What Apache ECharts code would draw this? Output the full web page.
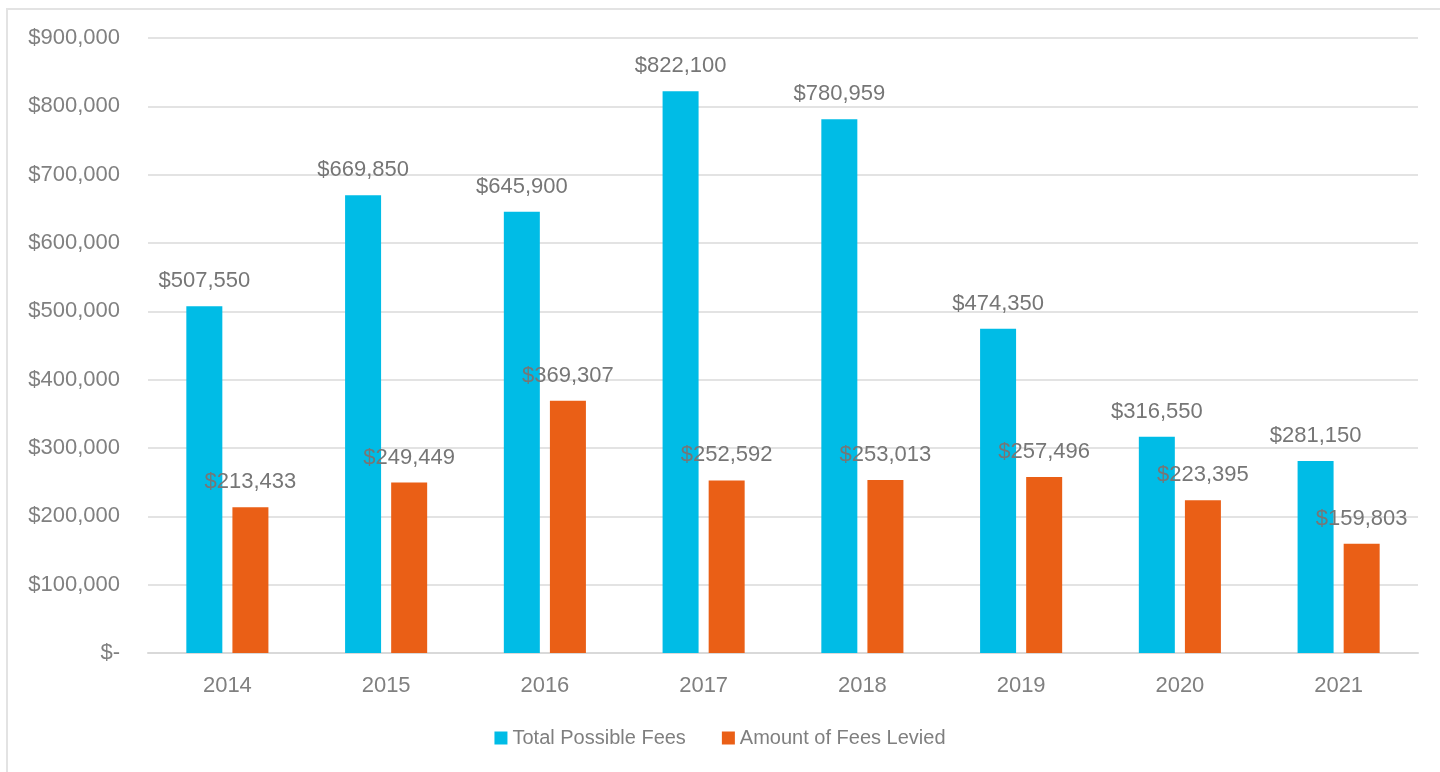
<!DOCTYPE html>
<html>
<head>
<meta charset="utf-8">
<script src="https://cdn.jsdelivr.net/npm/echarts@6/dist/echarts.min.js"></script>
<style>
  html, body { margin: 0; padding: 0; background: #fff; overflow: hidden; }
  #frame { position: absolute; left: 6px; top: 8px; width: 1500px; height: 800px; border: 2px solid #e3e3e3; }
  #main { position: absolute; left: 0; top: 0; width: 1440px; height: 772px; }
</style>
</head>
<body>
<div id="frame"></div>
<div id="main"></div>
<script>
  var years = ['2014', '2015', '2016', '2017', '2018', '2019', '2020', '2021']
  var totalPossible = [507550, 669850, 645900, 822100, 780959, 474350, 316550, 281150]
  var feesLevied = [213433, 249449, 369307, 252592, 253013, 257496, 223395, 159803]

  var font = '"Liberation Sans", Arial, sans-serif'

  function money(v) {
    if (v === 0) return '$-'
    return '$' + v.toLocaleString('en-US')
  }

  var chart = echarts.init(document.getElementById('main'))

  var label = {
    show: true,
    position: 'top',
    distance: 14,
    color: '#767676',
    fontSize: 22,
    fontFamily: font,
    formatter: function (p) { return money(p.value) }
  }

  chart.setOption({
    animation: false,
    grid: { left: 148, right: 22, top: 38, bottom: 119 },
    legend: {
      bottom: 19,
      left: 'center',
      itemWidth: 13,
      itemHeight: 13,
      itemGap: 36,
      icon: 'rect',
      textStyle: { color: '#7f7f7f', fontSize: 20, fontFamily: font },
      data: ['Total Possible Fees', 'Amount of Fees Levied']
    },
    xAxis: {
      type: 'category',
      data: years,
      axisTick: { show: false },
      axisLine: { lineStyle: { color: '#d9d9d9', width: 2 } },
      axisLabel: { color: '#808080', fontSize: 22, fontFamily: font, margin: 22 }
    },
    yAxis: {
      type: 'value',
      min: 0,
      max: 900000,
      interval: 100000,
      axisLine: { show: false },
      axisTick: { show: false },
      splitLine: { lineStyle: { color: '#e3e3e3', width: 2 } },
      axisLabel: { color: '#808080', fontSize: 22, fontFamily: font, margin: 28, formatter: money }
    },
    series: [{
      name: 'Total Possible Fees',
      type: 'bar',
      barWidth: 36,
      barGap: '28%',
      itemStyle: { color: '#00bce6' },
      label: label,
      data: totalPossible
    }, {
      name: 'Amount of Fees Levied',
      type: 'bar',
      barWidth: 36,
      barGap: '28%',
      itemStyle: { color: '#ea5f16' },
      label: label,
      data: feesLevied
    }]
  })
</script>
</body>
</html>
